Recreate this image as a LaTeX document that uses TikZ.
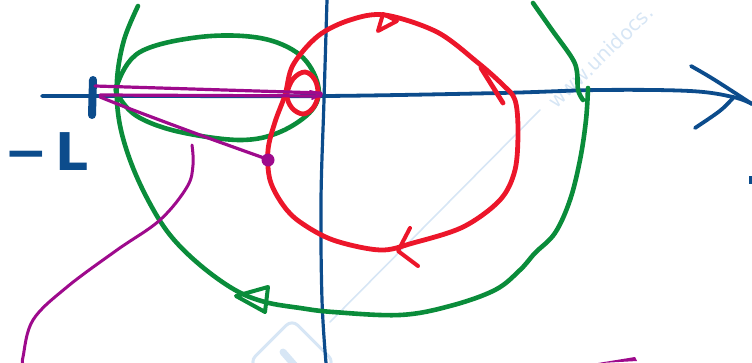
\documentclass[tikz,border=0pt]{standalone}
\usepackage{fontspec}
\newfontfamily\lblfont{DejaVu Sans}
\newfontfamily\wmfont{DejaVu Sans}
\usepackage{tikz}
\definecolor{axisblue}{RGB}{12,76,140}
\definecolor{sgreen}{RGB}{10,140,58}
\definecolor{sred}{RGB}{236,22,42}
\definecolor{smag}{RGB}{158,10,140}
\definecolor{wmark}{RGB}{215,230,245}
\tikzset{
  axisline/.style={draw=axisblue, line width=3.8pt, line cap=round, line join=round},
  gline/.style={draw=sgreen, line width=4.6pt, line cap=round, line join=round},
  rline/.style={draw=sred, line width=4.8pt, line cap=round, line join=round},
  mline/.style={draw=smag, line width=3.2pt, line cap=round, line join=round},
  wline/.style={draw=wmark, line width=1.6pt, line cap=round}
}
\begin{document}
\begin{tikzpicture}[x=1pt,y=-1pt]
\useasboundingbox (0,0) rectangle (752,363);
% watermark
\draw[wline] (330,322) -- (540,110);
\node[text=wmark, rotate=44, anchor=base west, inner sep=0pt, font=\wmfont\fontsize{20}{20}\selectfont] (wm) at (556,110) {www.unidocs.};
\draw[wmark, line width=3pt, rounded corners=8pt, rotate around={45:(292,362)}] (262,332) rectangle (322,392);
\draw[wmark, line width=7pt, line cap=round] (283,352) -- (297,368);
% axes
\draw[axisline] plot[smooth, tension=0.6] coordinates {(42,96) (150,96) (325,96) (500,93) (600,90) (690,91) (733,97) (752,104)};
\draw[axisline] (691,66) .. controls (712,78) .. (752,104);
\draw[axisline] (733,98) .. controls (722,110) .. (695,128);
\draw[axisline, line width=3.2pt] plot[smooth, tension=0.6] coordinates {(327,0) (324,100) (321,200) (322,300) (326,363)};
\draw[axisblue, line width=8pt, line cap=round] (93,80) -- (92,115);
\fill[axisblue] (749,176) rectangle (752,184);
\node[text=axisblue, inner sep=0pt, anchor=base west, font=\lblfont\bfseries\fontsize{52}{52}\selectfont] (lbl) at (4,171) {−\hspace{8pt}L};
% green small loop
\draw[gline] plot[smooth cycle, tension=0.6] coordinates {(117,85) (140,52) (200,37) (260,38) (300,55) (318,85) (312,110) (280,132) (240,140) (180,132) (140,118) (121,100)};
% green big curve
\draw[gline] plot[smooth, tension=0.6] coordinates {(138,6) (124,40) (117,80) (119,120) (130,160) (148,200) (170,235) (200,265) (235,290) (265,302) (300,308) (333,312) (400,315) (450,306) (495,290) (520,270) (535,253) (555,233) (570,200) (580,160) (586,120) (588,88)};
\draw[gline] plot[smooth, tension=0.6] coordinates {(533,3) (552,30) (572,58) (577,72) (578,90) (583,100)};
\draw[gline, line width=4pt] (236,296) -- (268,287) -- (265,312) -- cycle;
% red loop
\draw[rline] plot[smooth cycle, tension=0.55] coordinates {(285,95) (293,65) (318,36) (350,20) (385,15) (437,32) (477,62) (503,85) (515,100) (518,130) (515,170) (500,200) (463,227) (413,243) (380,250) (333,240) (300,222) (283,205) (270,180) (268,150) (275,122)};
\draw[rline] plot[smooth cycle, tension=0.6] coordinates {(287,95) (293,79) (305,72) (315,80) (318,95) (313,108) (303,114) (292,108)};
\draw[rline] (481,68) -- (503,103);
\draw[rline, line width=4pt] (383,14) -- (397,21) -- (378,31) -- cycle;
\draw[rline, line width=4pt] (410,228) -- (398,251) -- (418,266);
% magenta
\draw[mline] (95,86) -- (321,93);
\draw[mline] (100,95) -- (321,96);
\draw[mline, line width=2pt] (310,91) -- (322,94) -- (312,99);
\draw[mline] plot[smooth, tension=0.6] coordinates {(100,97) (133,110) (200,135) (264,158)};
\fill[smag] (268,160) circle (6.5pt);
\draw[mline, line width=3pt] plot[smooth, tension=0.6] coordinates {(192,145) (193,165) (187,187) (160,220) (117,250) (67,287) (33,320) (23,357) (23,363)};
\fill[smag] (598,363) -- (635,357) -- (637,361) -- (601,363) -- cycle;
\end{tikzpicture}
\end{document}
